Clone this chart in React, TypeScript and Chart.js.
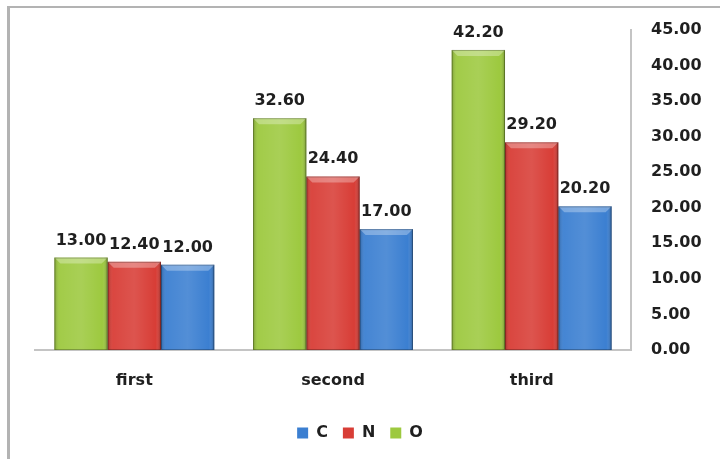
import React, { useEffect, useRef } from "react";
import { Chart, registerables } from "chart.js";

Chart.register(...registerables);

const categories = ["first", "second", "third"];
const oValues = [13.0, 32.6, 42.2];
const nValues = [12.4, 24.4, 29.2];
const cValues = [12.0, 17.0, 20.2];
const yMin = 0;
const yMax = 45;
const yStep = 5;

const GREEN = "#9dc93f";
const RED = "#d83d36";
const BLUE = "#3b7fd1";
const TEXT = "#1f1f1f";
const FONT = "'DejaVu Sans', sans-serif";

// Bevel shading on each bar plus value labels above it
const bevelAndLabels = {
  id: "bevelAndLabels",
  afterDatasetsDraw(chart: any) {
    const ctx = chart.ctx as CanvasRenderingContext2D;
    chart.data.datasets.forEach((ds: any, di: number) => {
      const meta = chart.getDatasetMeta(di);
      if (meta.hidden) return;
      meta.data.forEach((el: any, i: number) => {
        const { x, y, base, width } = el.getProps(["x", "y", "base", "width"], true);
        const left = x - width / 2;
        const h = base - y;
        ctx.save();
        const g = ctx.createLinearGradient(left, 0, left + width, 0);
        g.addColorStop(0, "rgba(0,0,0,0.22)");
        g.addColorStop(0.1, "rgba(255,255,255,0.05)");
        g.addColorStop(0.5, "rgba(255,255,255,0.12)");
        g.addColorStop(0.9, "rgba(255,255,255,0.0)");
        g.addColorStop(1, "rgba(0,0,0,0.28)");
        ctx.fillStyle = g;
        ctx.fillRect(left, y, width, h);
        // top bevel
        const bv = Math.min(6, h / 2);
        ctx.beginPath();
        ctx.moveTo(left, y);
        ctx.lineTo(left + width, y);
        ctx.lineTo(left + width - bv, y + bv);
        ctx.lineTo(left + bv, y + bv);
        ctx.closePath();
        ctx.fillStyle = "rgba(255,255,255,0.3)";
        ctx.fill();
        ctx.strokeStyle = "rgba(0,0,0,0.25)";
        ctx.lineWidth = 1;
        ctx.strokeRect(left + 0.5, y + 0.5, width - 1, h - 1);
        ctx.restore();

        const v = ds.data[i] as number;
        ctx.save();
        ctx.font = `bold 16px ${FONT}`;
        ctx.fillStyle = TEXT;
        ctx.textAlign = "center";
        ctx.textBaseline = "alphabetic";
        ctx.fillText(v.toFixed(2), x, y - 13);
        ctx.restore();
      });
    });
  },
};

export default function App() {
  const ref = useRef<HTMLCanvasElement | null>(null);

  useEffect(() => {
    if (!ref.current) return;
    const chart = new Chart(ref.current, {
      type: "bar",
      data: {
        labels: categories,
        datasets: [
          { label: "O", data: oValues, backgroundColor: GREEN, borderWidth: 0 },
          { label: "N", data: nValues, backgroundColor: RED, borderWidth: 0 },
          { label: "C", data: cValues, backgroundColor: BLUE, borderWidth: 0 },
        ],
      },
      options: {
        responsive: false,
        animation: false,
        layout: { padding: { left: 0, right: 0, top: 30, bottom: 8 } },
        datasets: { bar: { categoryPercentage: 0.805, barPercentage: 1 } },
        scales: {
          x: {
            grid: { display: true, drawOnChartArea: false, drawTicks: false },
            border: { display: true, color: "#c4c4c4", width: 2 },
            ticks: {
              color: TEXT,
              font: { family: FONT, size: 16, weight: "bold" },
              padding: 21,
            },
            afterFit: (s: any) => {
              s.height = 60;
            },
          },
          // empty spacer on the left side of the plot
          spacer: {
            type: "linear",
            position: "left",
            display: true,
            grid: { display: false },
            border: { display: false },
            ticks: { display: false },
            afterFit: (s: any) => {
              s.width = 35;
            },
          },
          y: {
            position: "right",
            min: yMin,
            max: yMax,
            grid: { display: true, drawOnChartArea: false, drawTicks: false },
            border: { display: true, color: "#c4c4c4", width: 2 },
            ticks: {
              stepSize: yStep,
              color: TEXT,
              padding: 20,
              font: { family: FONT, size: 16, weight: "bold" },
              callback: (v: any) => Number(v).toFixed(2),
            },
            afterFit: (s: any) => {
              s.width = 89;
            },
          },
        },
        plugins: {
          legend: {
            position: "bottom",
            reverse: true,
            labels: {
              boxWidth: 11,
              boxHeight: 11,
              padding: 15,
              color: TEXT,
              font: { family: FONT, size: 16, weight: "bold" },
            },
          },
          tooltip: { enabled: false },
        },
      },
      plugins: [bevelAndLabels],
    });
    return () => chart.destroy();
  }, []);

  return (
    <div
      style={{
        position: "fixed",
        left: 0,
        top: 0,
        width: 720,
        height: 459,
        background: "#ffffff",
        overflow: "hidden",
      }}
    >
      <canvas
        ref={ref}
        width={720}
        height={459}
        style={{ position: "absolute", left: 0, top: 0, width: 720, height: 459 }}
      />
      <div
        style={{
          position: "absolute",
          left: 7,
          top: 6,
          width: 730,
          height: 470,
          borderTop: "2px solid #b3b3b3",
          borderLeft: "3px solid #b3b3b3",
          pointerEvents: "none",
        }}
      />
    </div>
  );
}
